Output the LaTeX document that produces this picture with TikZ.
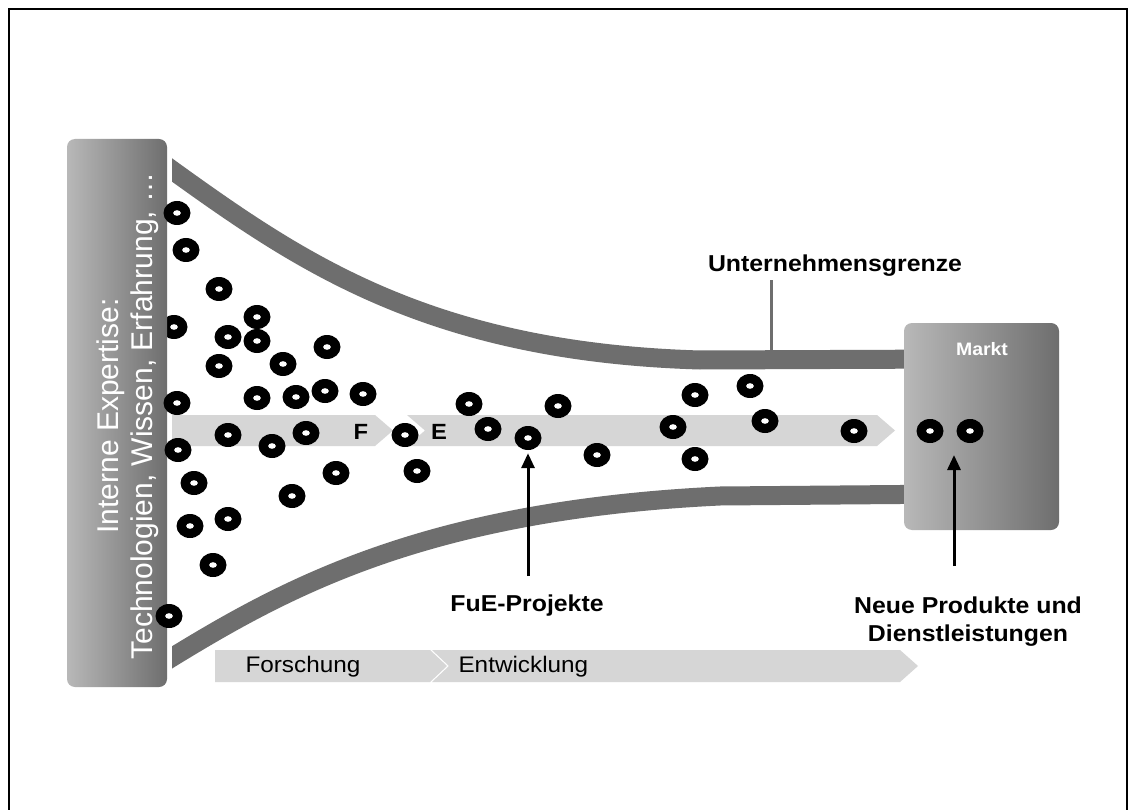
\documentclass[tikz,border=0pt]{standalone}
\usepackage{fontspec}
\setmainfont{Liberation Sans}
\newfontfamily\widesans{Liberation Sans}[FakeStretch=1.08]
\usetikzlibrary{arrows.meta,shapes.geometric}

\definecolor{bandgray}{RGB}{110,110,110}
\definecolor{panelleft}{RGB}{184,184,184}
\definecolor{panelright}{RGB}{110,110,110}
\definecolor{stagefill}{RGB}{214,214,214}

\tikzset{
  x=1pt, y=-1pt,
  frame/.style={line width=2pt, black},
  band/.style={line width=19pt, bandgray},
  panel/.style={left color=panelleft, right color=panelright, rounded corners=8pt},
  stage/.style={fill=stagefill, draw=none},
  ring/.style={ellipse, minimum width=27pt, minimum height=24pt, inner sep=0pt,
    fill=black, path picture={\fill[white] (path picture bounding box.center)
      ellipse[x radius=3.8pt, y radius=2.8pt];}},
  biglabel/.style={font=\widesans\bfseries\fontsize{23}{28}\selectfont, align=center, text=black},
  stagelabel/.style={font=\widesans\fontsize{22.5}{26}\selectfont, text=black},
  pointer/.style={line width=3pt, black, -{Triangle[width=13pt,length=15pt]}},
  leader/.style={line width=3pt, bandgray}
}

\begin{document}
\begin{tikzpicture}
\useasboundingbox (0,0) rectangle (1135,810);
\fill[white] (0,0) rectangle (1135,810);

% outer frame
\draw[frame] (9,812) -- (9,9) -- (1127,9) -- (1127,812);

% upper and lower company boundary
\begin{scope}
  \clip (172,0) rectangle (1000,810);
  \draw[band] (150,154) -- (172,170) .. controls (300,262) and (430,352) .. (700,360) -- (960,359);
  \draw[band] (150,671) -- (171,658) .. controls (290,585) and (430,510) .. (720,496) -- (960,494);
\end{scope}

% stage arrows inside the funnel
\path[stage] (172,415) -- (375,415) -- (393,430.5) -- (375,446) -- (172,446) -- cycle;
\path[stage] (407,415) -- (877,415) -- (895,430.5) -- (877,446) -- (407,446) -- (425,430.5) -- cycle;
\node[font=\widesans\bfseries\fontsize{22}{26}\selectfont] (lblF) at (361,432) {F};
\node[font=\widesans\bfseries\fontsize{22}{26}\selectfont] (lblE) at (439,432) {E};

% stage arrows at the bottom
\path[stage] (215,650) -- (430,650) -- (447,666) -- (430,682) -- (215,682) -- cycle;
\path[stage] (432,650) -- (900,650) -- (918,666) -- (900,682) -- (432,682) -- (449,666) -- cycle;
\node[stagelabel, anchor=west] (forsch) at (242,667) {Forschung};
\node[stagelabel, anchor=west] (entw) at (455,667) {Entwicklung};

% project partly hidden by the expertise panel
\node[ring] (p0) at (174,327) {};

% internal expertise panel
\shade[panel] (67,139) rectangle (167,687);
\node[rotate=90, text=white, align=center,
      font=\fontsize{30}{34}\selectfont] (expertise) at (128,416)
  {Interne Expertise:\\Technologien, Wissen, Erfahrung, \dots};

% market panel
\shade[panel] (904,323) rectangle (1059,530);
\node[text=white, font=\widesans\bfseries\fontsize{18}{21}\selectfont] (markt) at (982,349) {Markt};

% projects
\foreach \px/\py [count=\i] in {
  177/213, 186/250, 219/289, 257/317, 228/337, 257/341, 219/366, 283/364, 327/347,
  177/403, 257/398, 296/397, 325/391, 363/394,
  178/450, 228/435, 272/446, 306/433, 405/435, 336/473, 417/471,
  194/483, 292/496, 228/519, 190/526, 213/565, 169/616,
  469/404, 488/429, 558/406, 597/455, 673/427, 695/395, 695/459,
  750/386, 765/421, 854/431}
  \node[ring] (p\i) at (\px,\py) {};
\node[ring] (fueproj) at (528,438) {};
\node[ring] (prodA) at (930,431) {};
\node[ring] (prodB) at (970,431) {};

% labels and pointers
\node[biglabel] (grenze) at (835,266) {Unternehmensgrenze};
\coordinate (grenzefoot) at (771,352);
\draw[leader] (grenze.south -| grenzefoot) -- (grenzefoot);

\node[biglabel] (fue) at (527,606) {FuE-Projekte};
\coordinate (fuetail) at (528,576);
\draw[pointer, shorten >=3pt] (fuetail) -- (fueproj.south);

\node[biglabel] (neue) at (968,622) {Neue Produkte und\\Dienstleistungen};
\coordinate (neuetail) at (954,566);
\coordinate (neuetip) at (954,455);
\draw[pointer] (neuetail) -- (neuetip);
\end{tikzpicture}
\end{document}
